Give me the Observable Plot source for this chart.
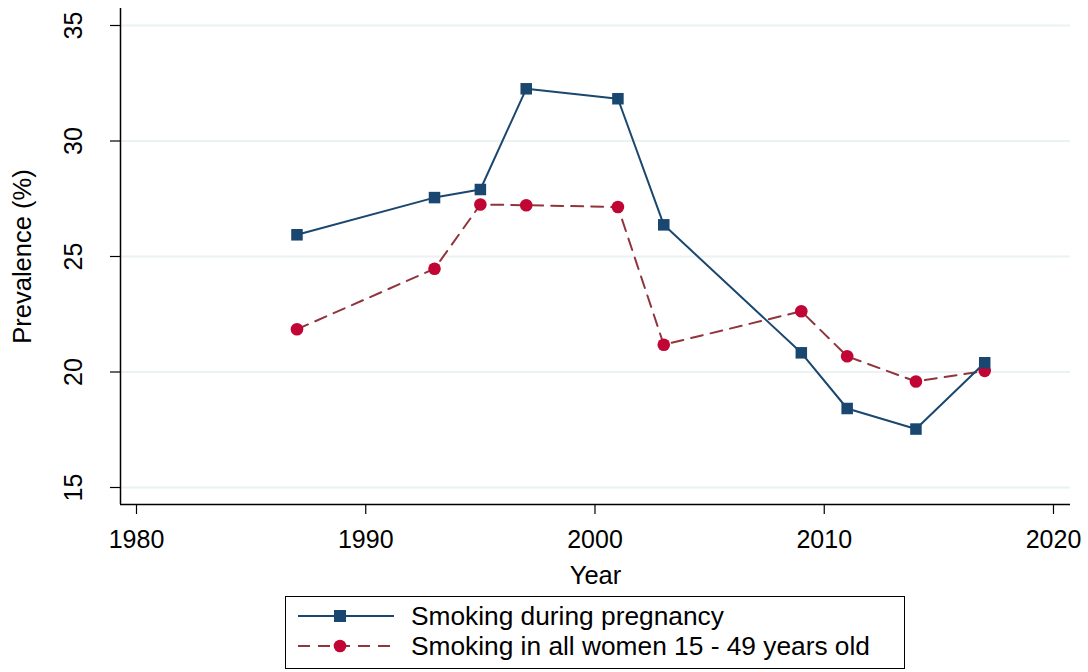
<!DOCTYPE html>
<html>
<head>
<meta charset="utf-8">
<script src="https://cdn.jsdelivr.net/npm/d3@7"></script>
<script src="https://cdn.jsdelivr.net/npm/@observablehq/plot@0.6"></script>
<style>
  html, body { margin: 0; padding: 0; background: #fff; }
  body { width: 1088px; height: 672px; position: relative; overflow: hidden; font-family: "Liberation Sans", Arial, sans-serif; }
  #legend { position: absolute; left: 285px; top: 596px; width: 620px; height: 73px; border: 1.5px solid #000; box-sizing: border-box; }
  .row { position: absolute; left: 10px; height: 30px; display: flex; align-items: center; font-size: 26.3px; color: #000; }
  .row svg { margin-right: 15px; }
</style>
</head>
<body>
<div id="chart"></div>
<div id="legend"></div>
<script>
const years = [1987, 1993, 1995, 1997, 2001, 2003, 2009, 2011, 2014, 2017];
const pregnancy = [25.94, 27.55, 27.9, 32.26, 31.83, 26.37, 20.83, 18.42, 17.53, 20.4];
const allWomen = [21.85, 24.47, 27.25, 27.22, 27.14, 21.18, 22.63, 20.68, 19.59, 20.05];
const seriesNames = ["Smoking during pregnancy", "Smoking in all women 15 - 49 years old"];
const xTicks = [1980, 1990, 2000, 2010, 2020];
const yTicks = [15, 20, 25, 30, 35];

const blue = "#1a476f";
const redLine = "#90353b";
const redMarker = "#c10534";

const dataP = years.map((y, i) => ({year: y, value: pregnancy[i]}));
const dataW = years.map((y, i) => ({year: y, value: allWomen[i]}));
const xDomain = [1979.302, 2020.742];
const yDomain = [14.264, 35.736];

const chart = Plot.plot({
  width: 1088,
  height: 590,
  marginLeft: 120,
  marginRight: 18,
  marginTop: 8,
  marginBottom: 86,
  style: {fontFamily: "'Liberation Sans', Arial, sans-serif", fontSize: "25px", color: "#000", background: "#fff"},
  x: {domain: xDomain},
  y: {domain: yDomain},
  marks: [
    Plot.gridY(yTicks, {stroke: "#eaf2f3", strokeOpacity: 1, strokeWidth: 2}),
    Plot.ruleX([xDomain[0]], {stroke: "#000", strokeWidth: 1.5}),
    Plot.ruleY([yDomain[0]], {stroke: "#000", strokeWidth: 1.5}),
    Plot.axisX({ticks: xTicks, tickSize: 10, tickPadding: 16, tickFormat: d => String(d), label: null, fontSize: 25, strokeWidth: 1.2}),
    Plot.axisY({ticks: yTicks, tickSize: 10, tickFormat: () => "", label: null, strokeWidth: 1.2}),
    Plot.text(yTicks, {y: d => d, text: d => String(d), frameAnchor: "left", textAnchor: "middle", lineAnchor: "middle", dx: -47, rotate: -90, fontSize: 25}),
    Plot.text(["Year"], {frameAnchor: "bottom", textAnchor: "middle", lineAnchor: "middle", dy: 71, fontSize: 25.5}),
    Plot.text(["Prevalence (%)"], {frameAnchor: "left", textAnchor: "middle", lineAnchor: "middle", dx: -98, rotate: -90, fontSize: 25.5}),
    Plot.line(dataW, {x: "year", y: "value", stroke: redLine, strokeWidth: 2, strokeDasharray: "12,8"}),
    Plot.line(dataP, {x: "year", y: "value", stroke: blue, strokeWidth: 2}),
    Plot.dot(dataW, {x: "year", y: "value", r: 6.3, fill: redMarker, stroke: null}),
    Plot.dot(dataP, {x: "year", y: "value", symbol: "square", r: 6.5, fill: blue, stroke: null})
  ]
});
document.getElementById("chart").appendChild(chart);

// Legend
const legend = document.getElementById("legend");
const symbols = [
  `<svg width="100" height="20"><line x1="2" y1="10" x2="98" y2="10" stroke="${blue}" stroke-width="2"/><rect x="38" y="4" width="12" height="12" fill="${blue}"/></svg>`,
  `<svg width="100" height="20"><line x1="2" y1="10" x2="98" y2="10" stroke="${redLine}" stroke-width="2" stroke-dasharray="12,8"/><circle cx="44" cy="10" r="6.3" fill="${redMarker}"/></svg>`
];
seriesNames.forEach((name, i) => {
  const row = document.createElement("div");
  row.className = "row";
  row.style.top = (i === 0 ? 4 : 34) + "px";
  row.innerHTML = symbols[i] + `<span>${name}</span>`;
  legend.appendChild(row);
});
</script>
</body>
</html>
